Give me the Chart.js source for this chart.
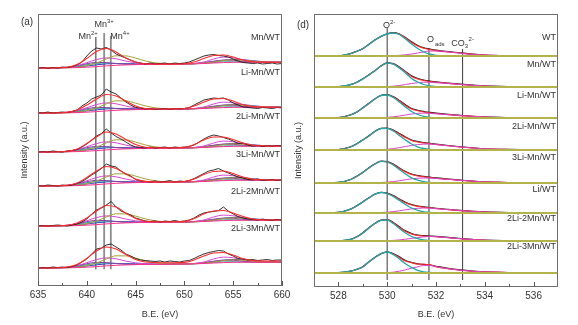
<!DOCTYPE html>
<html>
<head>
<meta charset="utf-8">
<script src="https://cdn.jsdelivr.net/npm/chart.js@4.4.1/dist/chart.umd.min.js"></script>
<style>
  html, body { margin: 0; padding: 0; background: #fff; }
  #wrap { position: relative; width: 578px; height: 325px; overflow: hidden; }
  .panel { position: absolute; top: 0; height: 325px; }
  #mnPanel { left: 0; width: 300px; }
  #oPanel { left: 289px; width: 289px; }
</style>
</head>
<body>
<div id="wrap">
  <div class="panel" id="mnPanel"><canvas id="mnChart"></canvas></div>
  <div class="panel" id="oPanel"><canvas id="oChart"></canvas></div>
</div>
<script>
const FONT = '"Liberation Sans", Arial, sans-serif';

// ---------- panel (a): Mn 2p ----------
const mnNames = ['Mn/WT', 'Li-Mn/WT', '2Li-Mn/WT', '3Li-Mn/WT', '2Li-2Mn/WT', '2Li-3Mn/WT'];
const mnOffsets = [218, 173, 134, 100, 60, 18];
const mnNameY = [248, 213, 169, 131, 94, 57];
const mnTicks = [635, 640, 645, 650, 655, 660];
const mnMinorTicks = [637.5, 642.5, 647.5, 652.5, 657.5];

const mnRawX = [635,635.5,636,636.5,637,637.5,638,638.5,639,639.5,640,640.5,641,641.5,642,642.5,643,643.5,644,644.5,
  645,645.5,646,646.5,647,647.5,648,648.5,649,649.5,650,650.5,651,651.5,652,652.5,653,653.5,654,654.5,
  655,655.5,656,656.5,657,657.5,658,658.5,659,659.5,660];
const mnRaw = [
  [0,0.5,-0.5,0.5,0,1,0.5,1.5,3,6, 12,17,20,19,20.5,18,14,12,10,8, 6,5,4,5,4,4.5,5,4,5,4.5, 5,6,8,10,12,13,13.5,12.5,12,11, 9,7,5.5,5,4.5,5,4,4.5,5,4, 4.5],
  [0.5,0,1,0,0.5,1,0.5,1.5,3,7, 10,14,16,18,24,21,19,15,11,8, 5.5,5,4,4.5,3.5,4,4.5,3.5,4.5,4, 4.5,5.5,8,10.5,13,14,15,14.5,15,13, 10,8,6,5.5,5,4.5,5.5,5,4.5,5.5, 5],
  [0,0.5,0,1,0.5,0,1,1.5,2.5,5, 8,12,16,18.5,23,19,15.5,13,10,7, 5,4.5,4,5,4,4.5,5,4,5,4.5, 5,5.5,7,10,13,15.5,17,16,14.5,13, 11,8.5,9,7,6,6.5,5.5,6.5,6,6.5, 6],
  [0.5,0,1,0.5,0,1,0.5,1,2.5,4.5, 7.5,11,14,17.5,22,20,19,15,12,10, 6.5,5,4.5,4,5,4,4.5,5.5,4,5, 4.5,5.5,7.5,10,12.5,15,16,17.5,15,13, 11,9,8,6.5,6,7,5.5,6,6.5,5.5, 6],
  [0,0.5,0,0.5,1,0.5,0,1,2,4, 7,12,16,18,21,24.5,19,15,13,11, 8,6.5,5,4.5,5,4,5,4.5,5.5,4.5, 5,6,8,11,13,14,14.5,15.5,19,15, 12,9.5,8,7,6.5,6,7,6,5.5,6.5, 6],
  [0,0.5,0,1,0.5,1,0.5,1.5,3,6, 9,14,19,20,23,24,21,18,14,12, 9.5,8,7.5,7,6.5,7,6,7,6.5,6, 7,7.5,9.5,12,14,15.5,16.5,17.5,17,14, 12,9.5,9,8,8.5,7.5,8,8.5,7.5,8, 8]
];

const mnFitX = [635,636,637,638,639,640,641,642,643,644,645,646,647,648,649,650,651,652,653,654,655,656,657,658,659,660];
const mnEnvelope = [
  [0,0,0.2,0.8,3.5,9.5,16.5,19.5,16,10,6,4.3,3.9,3.9,4,4.3,6,9.5,12.5,13,11,8,6.3,5.9,5.8,5.8],
  [0,0,0.2,0.8,3,8,14,18.5,17,12,7,4.5,4,4,4.1,4.5,7,11,14,14.5,12,8.5,6.5,6,5.8,5.8],
  [0,0,0.2,0.8,3,8.5,15,20,18,12.5,7.5,4.8,4.2,4.1,4.2,4.6,7.5,12,15,15,12.5,9,6.8,6.2,6,6],
  [0,0,0.2,0.8,3,8.5,15,19.5,17.5,12,7,4.6,4.1,4,4.1,4.5,7,11.5,14.5,15,12.5,9,6.8,6.2,6,6],
  [0,0,0.2,0.8,3,8,15,20.5,19,13,7.5,4.8,4.2,4.1,4.2,4.6,7.5,12,15,15.5,13,9.5,7,6.2,6,6],
  [0,0,0.2,1,3.5,9.5,17,21,19,13.5,8.5,6,5.5,5.3,5.3,5.6,8,12,15,15.5,13,9.5,7.5,7,7,7]
];
const mnBackground = [0,0,0.1,0.2,0.4,0.8,1.4,2.1,2.7,3.1,3.4,3.6,3.7,3.8,3.9,4,4.2,4.5,5,5.4,5.7,5.8,5.8,5.8,5.8,5.8];
const mnOlive   = [0,0,0.1,0.3,0.9,2.3,4.9,9.1,12.2,12.1,9.9,7.1,5.2,4.3,4,4,4.2,4.8,6,7.4,8.2,7.8,6.8,6.1,5.8,5.8];
const mnMagenta = [0,0,0.2,0.8,2.4,5.3,8.4,10.1,9.2,6.9,5.2,4.2,3.9,3.8,3.9,4,4.5,6,9,10.9,10.2,8.3,6.8,6.1,5.8,5.8];
const mnCyan    = [0,0,0.1,0.5,1.6,3.3,4.6,4.9,4.5,3.9,3.7,3.7,3.7,3.8,3.9,4,4.2,4.7,5.5,6.1,6.2,6,5.8,5.8,5.8,5.8];
const mnBlue    = [0,0,0.1,0.4,1,2,3.2,4.1,4.5,4.4,4.2,4,3.9,3.9,3.9,4,4.4,5.2,6.5,7.7,8.5,8.3,7.3,6.4,6,5.8];
const mnPurple  = [0,0,0.2,0.7,2.2,4.3,5.6,5.4,4.5,3.9,3.7,3.7,3.7,3.8,3.9,4,4.4,5.3,6.8,7.9,7.7,6.8,6.1,5.9,5.8,5.8];

const mnMarkers = [640.93, 641.78, 642.46];
const mnMarkerTop = [249, 253, 250];
const mnMarkerBottom = 16.7;

// ---------- panel (d): O 1s ----------
const oNames = ['WT', 'Mn/WT', 'Li-Mn/WT', '2Li-Mn/WT', '3Li-Mn/WT', 'Li/WT', '2Li-2Mn/WT', '2Li-3Mn/WT'];
const oOffsets = [231, 200, 169, 137, 104, 74, 46, 14];
const oNameY = [249, 222, 191, 160, 129, 97, 68, 40];
const oTicks = [528, 530, 532, 534, 536];
const oMinorTicks = [529, 531, 533, 535];

const oX = [527,528,528.5,528.75,529,529.25,529.5,529.75,530,530.25,530.5,530.75,531,531.25,531.5,531.75,532,532.5,533,533.5,534,535,536,537];
const oRaw = [
  [0.2,0,2.5,4.8,7.3,11.8,16.2,19.5,22.3,23.4,22,18.5,14.2,10.6,8.3,7,5.9,4.4,3.3,1.9,1,0.4,0.2,0.1],
  [0.1,0.4,2.3,4.8,8.2,12.4,16.3,21.2,24.2,23.4,20,15.6,11.2,8.6,7,6,5.2,4,2.9,2,1.2,0.5,0.2,0],
  [0.1,0.5,3.2,5.8,10.2,14.8,19.3,22.8,23.4,21.4,17.6,13.2,9.6,7.7,6.5,5.6,4.9,3.7,2.7,1.8,1.1,0.5,0.2,0.1],
  [0,0.5,3.2,6.2,10.3,14.2,18.8,21.8,22,20,16.6,13.1,10.1,8.5,7.5,6.6,5.9,4.5,3.3,2.2,1.3,0.6,0.2,0],
  [0.1,0.6,3.6,6.8,10.7,15.3,19.3,22,21.4,19,15.1,11.6,9,7.5,6.6,5.9,5.1,4,2.9,1.9,1.2,0.5,0.1,0.1],
  [0,0.7,4,7.2,11.3,15.3,19,20.8,19.9,17.5,14.1,10.8,8.5,7,6.2,5.5,4.8,3.7,2.6,1.7,1.1,0.5,0.2,0],
  [0.1,0.3,1.7,4.2,8.3,13.3,17.8,20.9,21.5,18.6,14.2,10.2,7.6,6,5.4,5,4.6,3.6,2.5,1.6,0.9,0.4,0.1,0.1],
  [0,0.4,1.9,3.8,6.3,11.3,15.8,19.6,21.3,19.6,16.2,12.6,10.7,9.2,8.6,8,6.8,4.6,3.1,2,1.2,0.5,0.2,0]
];
const oEnvelope = [
  [0,0.2,2.3,4.5,7.5,11.5,16,19.7,22,23,21.7,18,13.5,10,7.8,6.5,5.4,4,3,1.6,0.9,0.3,0,0],
  [0,0.3,2.5,4.5,8,12,16.5,21,23.8,23,19.5,15,10.5,8,6.5,5.5,4.8,3.6,2.5,1.8,1,0.4,0.1,0],
  [0,0.4,3,6,10,14.5,19,22.5,23,21,17,12.5,9,7.2,6,5.2,4.5,3.4,2.4,1.6,1,0.4,0.1,0],
  [0,0.4,3,6,10,14,18.5,21.5,21.7,19.5,16,12.5,9.5,8,7,6.2,5.5,4.2,3,2,1.2,0.5,0.1,0],
  [0,0.5,3.5,6.5,10.5,15,19,21.7,21,18.5,14.5,11,8.5,7,6.2,5.5,4.8,3.7,2.7,1.8,1.1,0.4,0.1,0],
  [0,0.6,3.8,7,11,15,18.8,20.5,19.5,17,13.5,10.2,8,6.6,5.8,5.2,4.5,3.4,2.4,1.6,1,0.4,0.1,0],
  [0,0.2,1.5,4,8,13,17.5,20.7,21.2,18,13.5,9.5,7,5.5,5,4.6,4.2,3.3,2.2,1.4,0.8,0.3,0.1,0],
  [0,0.3,1.8,3.5,6,11,15.5,19.3,21,19,15.5,12,10.3,8.9,8.7,8.1,6.4,4.3,2.8,1.8,1.1,0.4,0.1,0]
];
const oLattice = [
  [0,0.2,2.3,4.5,7.5,11.5,16,19.7,22,23,21.5,17,12,7.5,4,1.8,0.7,0.1,0,0,0,0,0,0],
  [0,0.3,2.5,4.5,8,12,16.5,21,23.8,22.8,19,14,8.5,5,2.5,1,0.4,0,0,0,0,0,0,0],
  [0,0.4,3,6,10,14.5,19,22.5,23,20.5,16,11,6.5,3.5,1.6,0.6,0.2,0,0,0,0,0,0,0],
  [0,0.4,3,6,10,14,18.5,21.5,21.7,19,14.5,10,6,3.2,1.5,0.6,0.2,0,0,0,0,0,0,0],
  [0,0.5,3.5,6.5,10.5,15,19,21.7,21,18,13.5,9,5.2,2.8,1.3,0.5,0.2,0,0,0,0,0,0,0],
  [0,0.6,3.8,7,11,15,18.8,20.5,19.3,16.5,12.5,8.5,5,2.6,1.2,0.5,0.2,0,0,0,0,0,0,0],
  [0,0.2,1.5,4,8,13,17.5,20.7,21,17.5,12.5,8,4.5,2.3,1,0.4,0.1,0,0,0,0,0,0,0],
  [0,0.3,1.8,3.5,6,11,15.5,19.3,21,18.5,14,9.3,5.5,2.7,1.2,0.5,0.2,0,0,0,0,0,0,0]
];
const oAdsorbed = [
  [0,0,0,0,0,0,0,0,0.1,0.3,0.7,1.2,2,3,4.2,5,5,4.2,2.6,1.5,0.9,0.3,0.1,0],
  [0,0,0,0,0,0,0,0.2,0.4,0.8,1.5,2.5,3.5,4.3,4.8,4.7,4.3,3.5,2.5,1.7,1,0.4,0.1,0],
  [0,0,0,0,0,0,0.2,0.4,0.6,1.2,2,3,4,4.7,4.9,4.6,4.2,3.3,2.4,1.6,1,0.4,0.1,0],
  [0,0,0,0,0,0,0.2,0.4,0.7,1.4,2.4,3.5,4.6,5.4,5.9,6,5.4,4.2,3,2,1.2,0.5,0.1,0],
  [0,0,0,0,0,0,0.3,0.5,0.8,1.4,2.3,3.3,4.2,4.8,5,4.9,4.5,3.6,2.6,1.8,1.1,0.4,0.1,0],
  [0,0,0,0,0,0,0.3,0.5,0.8,1.4,2.2,3.2,4.1,4.7,5,4.8,4.3,3.4,2.4,1.6,1,0.4,0.1,0],
  [0,0,0,0,0,0,0,0.2,0.4,0.6,1.1,1.8,2.6,3.4,4.1,4.5,4.3,3.4,2.3,1.4,0.8,0.3,0.1,0],
  [0,0,0,0,0,0,0,0.1,0.3,0.8,1.8,3.2,4.8,6.2,7.5,7.6,6.2,4.3,2.8,1.8,1.1,0.4,0.1,0]
];
const oBaseX = [527, 537];
const oBase = [0, 0];

const oMarkers = [530.0, 531.71, 533.09];
const oMarkerTop = [259, 239, 238];
const oMarkerBottom = 7;

// ---------- helpers ----------
function series(xs, ys, off) {
  return xs.map((x, i) => ({ x: x, y: ys[i] + off }));
}
function curve(data, color, width, order, smooth) {
  return {
    data: data, borderColor: color, borderWidth: width, pointRadius: 0, fill: false,
    order: order, tension: 0, cubicInterpolationMode: smooth ? 'monotone' : 'default'
  };
}
function markerSets(xs, tops, bottom, styles) {
  return xs.map((x, i) => curve([{ x: x, y: bottom }, { x: x, y: tops[i] }], styles[i][0], styles[i][1], 20, false));
}

function drawRich(ctx, parts, x, y, align) {
  let w = 0;
  parts.forEach(p => { ctx.font = p[1] + 'px ' + FONT; w += ctx.measureText(p[0]).width + (p[3] || 0); });
  let cx = align === 'right' ? x - w : align === 'center' ? x - w / 2 : x;
  ctx.textAlign = 'left';
  ctx.textBaseline = 'middle';
  parts.forEach(p => {
    ctx.font = p[1] + 'px ' + FONT;
    ctx.fillText(p[0], cx, y + (p[2] || 0));
    cx += ctx.measureText(p[0]).width + (p[3] || 0);
  });
}

function decor(cfg) {
  return {
    id: 'decor',
    afterDraw(chart) {
      const { ctx, chartArea: a, scales: { x, y } } = chart;
      ctx.save();
      ctx.strokeStyle = '#6e6e6e';
      ctx.lineWidth = 1;
      ctx.strokeRect(Math.round(a.left) + 0.5, Math.round(a.top) + 0.5,
        Math.round(a.right - a.left) - 1, Math.round(a.bottom - a.top) - 1);
      ctx.strokeStyle = '#555';
      ctx.beginPath();
      cfg.ticks.forEach(v => {
        const px = Math.round(x.getPixelForValue(v)) + 0.5;
        ctx.moveTo(px, a.bottom); ctx.lineTo(px, a.bottom - 5);
      });
      cfg.minor.forEach(v => {
        const px = Math.round(x.getPixelForValue(v)) + 0.5;
        ctx.moveTo(px, a.bottom); ctx.lineTo(px, a.bottom - 3);
      });
      ctx.stroke();

      ctx.fillStyle = '#333';
      ctx.font = '9px ' + FONT;
      ctx.textAlign = 'right';
      ctx.textBaseline = 'middle';
      cfg.names.forEach((n, i) => ctx.fillText(n, a.right - 2, y.getPixelForValue(cfg.nameY[i])));

      cfg.ions.forEach(l => {
        drawRich(ctx, l.parts, x.getPixelForValue(l.x) + (l.dx || 0), y.getPixelForValue(l.y), l.align);
      });

      ctx.font = '10px ' + FONT;
      ctx.textAlign = 'center';
      ctx.fillText(cfg.letter, a.left - 11, a.top + cfg.letterDy);
      ctx.restore();
    }
  };
}

function axes(min, max, ticks, yMax, yWidth, xHeight, yTitlePad) {
  return {
    x: {
      type: 'linear', min: min, max: max,
      afterBuildTicks: s => { s.ticks = ticks.map(v => ({ value: v })); },
      afterFit: s => { s.height = xHeight; },
      grid: { display: false, drawTicks: false },
      border: { display: false },
      ticks: { font: { size: 10, family: FONT }, color: '#333', padding: 3, maxRotation: 0, autoSkip: false },
      title: { display: true, text: 'B.E. (eV)', font: { size: 9, family: FONT }, color: '#333',
               padding: { top: 0, bottom: 4.6 } }
    },
    y: {
      type: 'linear', min: 0, max: yMax,
      afterFit: s => { s.width = yWidth; },
      ticks: { display: false },
      grid: { display: false, drawTicks: false },
      border: { display: false },
      title: { display: true, text: 'Intensity (a.u.)', font: { size: 9, family: FONT }, color: '#333',
               padding: { top: yTitlePad, bottom: 0 } }
    }
  };
}

// ---------- panel (a) datasets ----------
const mnSets = [];
mnOffsets.forEach((off, s) => {
  mnSets.push(curve(series(mnFitX, mnEnvelope[s], off), '#ff2a2a', 1.1, 1, true));
  mnSets.push(curve(series(mnRawX, mnRaw[s], off), '#1a1a1a', 0.9, 2, false));
  mnSets.push(curve(series(mnFitX, mnBackground, off), '#ff2f8c', 1, 3, true));
  mnSets.push(curve(series(mnFitX, mnOlive, off), '#a3a034', 1, 4, true));
  mnSets.push(curve(series(mnFitX, mnMagenta, off), '#d548d0', 1, 4, true));
  mnSets.push(curve(series(mnFitX, mnPurple, off), '#8a3aa8', 1, 5, true));
  mnSets.push(curve(series(mnFitX, mnCyan, off), '#2a9f9f', 1, 5, true));
  mnSets.push(curve(series(mnFitX, mnBlue, off), '#3540c0', 1, 6, true));
});
markerSets(mnMarkers, mnMarkerTop, mnMarkerBottom, [['#2b2b2b', 1], ['#8c8c8c', 1.8], ['#8c8c8c', 1.8]])
  .forEach(d => mnSets.push(d));

new Chart(document.getElementById('mnChart'), {
  type: 'line',
  data: { datasets: mnSets },
  options: {
    responsive: true, maintainAspectRatio: false, animation: false,
    layout: { padding: { left: 0, top: 14, right: 18, bottom: 0 } },
    plugins: { legend: { display: false }, tooltip: { enabled: false } },
    scales: axes(635, 660, mnTicks, 272, 38, 39, 19.6)
  },
  plugins: [decor({
    ticks: mnTicks, minor: mnMinorTicks, names: mnNames, nameY: mnNameY,
    letter: '(a)', letterDy: 8,
    ions: [
      { parts: [['Mn', 9], ['2+', 6, -3.5]], x: mnMarkers[0], y: 249.3, align: 'right', dx: 2 },
      { parts: [['Mn', 9], ['3+', 6, -3.5]], x: mnMarkers[1], y: 261, align: 'center' },
      { parts: [['Mn', 9], ['4+', 6, -3.5]], x: mnMarkers[2], y: 249.3, align: 'left', dx: -0.5 }
    ]
  })]
});

// ---------- panel (d) datasets ----------
const oSets = [];
oOffsets.forEach((off, s) => {
  oSets.push(curve(series(oBaseX, oBase, off), '#b3b34a', 2, 0, false));
  oSets.push(curve(series(oX, oLattice[s], off), '#1fa7aa', 1.3, 1, true));
  oSets.push(curve(series(oX, oAdsorbed[s], off), '#d545c8', 1, 2, true));
  oSets.push(curve(series(oX, oEnvelope[s], off), '#ff2a2a', 1.1, 3, true));
  oSets.push(curve(series(oX, oRaw[s], off), '#1c1c1c', 1.1, 4, true));
});
markerSets(oMarkers, oMarkerTop, oMarkerBottom, [['#5a5a5a', 1.2], ['#8c8c8c', 1.8], ['#3a3a3a', 1]])
  .forEach(d => oSets.push(d));

new Chart(document.getElementById('oChart'), {
  type: 'line',
  data: { datasets: oSets },
  options: {
    responsive: true, maintainAspectRatio: false, animation: false,
    layout: { padding: { left: 0, top: 14, right: 20, bottom: 0 } },
    plugins: { legend: { display: false }, tooltip: { enabled: false } },
    scales: axes(527, 537, oTicks, 273, 25, 38, 3.9)
  },
  plugins: [decor({
    ticks: oTicks, minor: oMinorTicks, names: oNames, nameY: oNameY,
    letter: '(d)', letterDy: 11,
    ions: [
      { parts: [['O', 9], ['2-', 6, -3.5]], x: oMarkers[0], y: 261, align: 'center', dx: 2 },
      { parts: [['O', 9, 0, 1], ['ads', 6, 4]], x: oMarkers[1], y: 247, align: 'left', dx: -2 },
      { parts: [['CO', 9], ['3', 6, 3.5, 0.5], ['2-', 6, -4]], x: oMarkers[2], y: 243.7, align: 'center' }
    ]
  })]
});
</script>
</body>
</html>
